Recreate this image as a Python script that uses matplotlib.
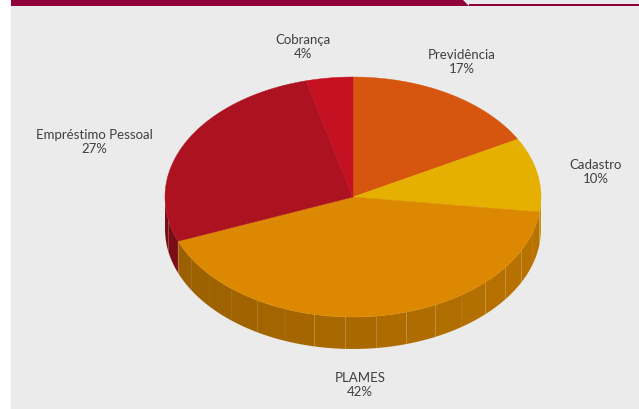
import numpy as np
import matplotlib.pyplot as plt
from matplotlib.patches import Polygon, Rectangle

# slices, clockwise from 12 o'clock
labels = ["Previdência", "Cadastro", "PLAMES", "Empréstimo Pessoal", "Cobrança"]
shares = [17, 10, 42, 27, 4]
colors = ["#d6560f", "#e6b000", "#dc8800", "#ad1220", "#c41020"]
label_pos = [(462, 62), (596, 172), (360, 385), (94, 142), (303, 47)]

W, H = 639, 409
cx, cy = 353, 197      # centre of the top face
rx, ry = 188, 120      # ellipse radii
depth = 32             # thickness of the disc

fig = plt.figure(figsize=(W / 100, H / 100), dpi=100)
ax = fig.add_axes([0, 0, 1, 1])
ax.set_xlim(0, W)
ax.set_ylim(H, 0)
ax.axis("off")

# panel and header strip
ax.add_patch(Rectangle((11, 0), W - 11, H, color="#ebebeb", zorder=0))
ax.add_patch(Polygon([(11, 0), (463, 0), (469, 6), (11, 6)], closed=True,
                     color="#92003a", lw=0, zorder=1))
ax.add_patch(Rectangle((469, 3.5), W - 469, 2.3, color="#92003a", lw=0, zorder=1))


def shade(c, t):
    rgb = np.array(plt.matplotlib.colors.to_rgb(c))
    f = 0.77 + 0.07 * np.cos(np.radians(t))
    return tuple(rgb * f)


def pt(t, dy=0):
    r = np.radians(t)
    return cx + rx * np.cos(r), cy - ry * np.sin(r) + dy


total = sum(shares)
start = 90.0
spans = []
for s in shares:
    end = start - 360.0 * s / total
    spans.append((end, start))
    start = end

# side walls (only the front half of the rim shows)
for (t0, t1), c in zip(spans, colors):
    ts = np.arange(t0, t1 + 1e-9, 0.5)
    vis = ts[np.sin(np.radians(ts)) < 0]
    if len(vis) < 2:
        continue
    a, b = vis.min(), vis.max()
    edges = np.linspace(a, b, max(2, int((b - a) / 9) + 1))
    for e0, e1 in zip(edges[:-1], edges[1:]):
        seg = np.linspace(e0, e1, 12)
        top = [pt(t) for t in seg]
        bot = [pt(t, depth) for t in seg[::-1]]
        ax.add_patch(Polygon(top + bot, closed=True,
                             facecolor=shade(c, (e0 + e1) / 2),
                             edgecolor=(1, 1, 1, 0.05), lw=0.5, zorder=2))

# top face
for (t0, t1), c in zip(spans, colors):
    seg = np.linspace(t0, t1, 200)
    verts = [(cx, cy)] + [pt(t) for t in seg]
    ax.add_patch(Polygon(verts, closed=True, facecolor=c, edgecolor=c,
                         lw=0.3, zorder=3))

for name, s, (x, y) in zip(labels, shares, label_pos):
    ax.text(x, y, f"{name}\n{s}%", ha="center", va="center", fontsize=9.5,
            color="#404040", family="Lato", linespacing=1.2, zorder=4)

fig.savefig("out.png", dpi=100)
